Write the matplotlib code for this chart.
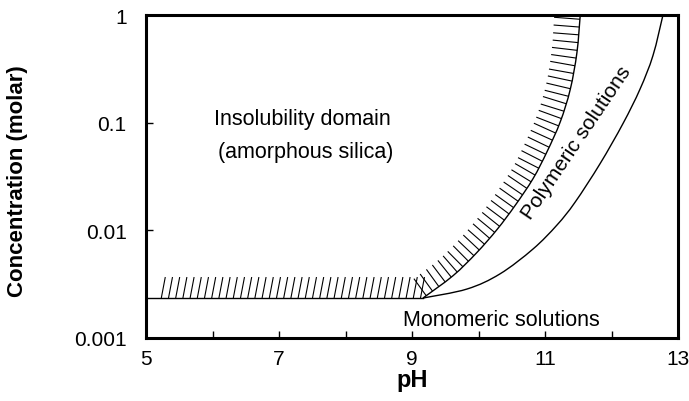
import numpy as np
import matplotlib
matplotlib.use("Agg")
import matplotlib.pyplot as plt
from matplotlib.collections import LineCollection
from matplotlib.patches import PathPatch
from matplotlib.path import Path
from matplotlib.ticker import FixedLocator, NullLocator

plt.rcParams['font.family'] = ['Liberation Sans', 'DejaVu Sans']

# solubility limit of amorphous silica (flat part, then rising branch)
plateau_ph = [5.0, 9.165]
plateau_conc = [0.00235, 0.00235]

solub_ph = [9.165, 9.617, 9.97, 10.28, 10.55, 10.82, 11.03, 11.23, 11.38, 11.48, 11.53]
solub_conc = [0.00235, 0.00379, 0.00617, 0.0102, 0.0170, 0.0302, 0.0537, 0.102, 0.204, 0.447, 1.0]

# monomer / polymer boundary
mono_ph = [9.165, 9.827, 10.323, 10.82, 11.18, 11.451, 11.827, 12.173, 12.429, 12.624, 12.774]
mono_conc = [0.00235, 0.00285, 0.00394, 0.00671, 0.0112, 0.0182, 0.0415, 0.0982, 0.205, 0.421, 1.0]

xticks = [5, 7, 9, 11, 13]
xminor = [6, 8, 10, 12]
yticks = [0.001, 0.01, 0.1, 1]
ytick_labels = ['0.001', '0.01', '0.1', '1']


def smooth_path(xs, ys):
    # Catmull-Rom through the points, in (x, log y), as cubic Bezier pieces
    P = np.column_stack([xs, np.log10(ys)])
    P = np.vstack([P[0], P, P[-1]])
    verts = [P[1]]
    codes = [Path.MOVETO]
    for i in range(1, len(P) - 2):
        c1 = P[i] + (P[i + 1] - P[i - 1]) / 6
        c2 = P[i + 1] - (P[i + 2] - P[i]) / 6
        verts += [c1, c2, P[i + 1]]
        codes += [Path.CURVE4] * 3
    verts = np.array(verts)
    verts[:, 1] = 10 ** verts[:, 1]
    return Path(verts, codes)


fig = plt.figure(figsize=(6.89, 4.02), dpi=100)
ax = fig.add_axes([146 / 689, 63 / 402, 532 / 689, 323 / 402])
ax.set_yscale('log')
ax.set_xlim(5, 13)
ax.set_ylim(0.001, 1)

ax.plot(plateau_ph, plateau_conc, color='black', lw=1.0)
solub_path = smooth_path(solub_ph, solub_conc)
mono_path = smooth_path(mono_ph, mono_conc)
for pth in (solub_path, mono_path):
    ax.add_patch(PathPatch(pth, facecolor='none', edgecolor='black', lw=1.0))

# hatching, built in pixel space from the data lines
to_px = ax.transData
to_data = ax.transData.inverted()


def resample(px, step, start=0.0):
    seg = np.hypot(np.diff(px[:, 0]), np.diff(px[:, 1]))
    s = np.concatenate([[0], np.cumsum(seg)])
    d = np.arange(start, s[-1], step)
    x = np.interp(d, s, px[:, 0])
    y = np.interp(d, s, px[:, 1])
    tx = np.interp(d + 1.5, s, px[:, 0]) - np.interp(d - 1.5, s, px[:, 0])
    ty = np.interp(d + 1.5, s, px[:, 1]) - np.interp(d - 1.5, s, px[:, 1])
    n = np.hypot(tx, ty)
    return x, y, tx / n, ty / n


segs = []
# flat part: slanted strokes above the line
p = to_px.transform(np.column_stack([plateau_ph, plateau_conc]))
x0 = to_px.transform([(5.23, 0.00235)])[0][0]
for x in np.arange(x0, p[1, 0] - 2, 7.2):
    a = (x, p[0, 1])
    b = (x + 4, p[0, 1] + 21)
    segs.append(to_data.transform([a, b]))

# rising part: strokes normal to the curve, on the insoluble side
p = to_px.transform_path(solub_path).to_polygons(closed_only=False)[0]
xs, ys, tx, ty = resample(p, 7.8, start=4.0)
for x, y, ux, uy in zip(xs, ys, tx, ty):
    L = 21 + 5 * (y - p[0, 1]) / (p[-1, 1] - p[0, 1])
    nx, ny = -uy, ux
    segs.append(to_data.transform([(x, y), (x + nx * L, y + ny * L)]))
segs = [s for s in segs if s[:, 1].max() <= 0.98]
ax.add_collection(LineCollection(segs, colors='black', linewidths=0.8))

# labels inside the plot
ax.text(7.35, 0.110, 'Insolubility domain', fontsize=15.5, ha='center', va='center')
ax.text(7.40, 0.0537, '(amorphous silica)', fontsize=15.5, ha='center', va='center')
ax.text(10.35, 0.00147, 'Monomeric solutions', fontsize=15.5, ha='center', va='center')
ax.text(11.48, 0.066, 'Polymeric solutions', fontsize=15, ha='center', va='center',
        rotation=56, rotation_mode='anchor')

# axes styling
for sp in ax.spines.values():
    sp.set_linewidth(2.2)
ax.xaxis.set_major_locator(FixedLocator(xticks))
ax.xaxis.set_minor_locator(FixedLocator(xminor))
ax.yaxis.set_major_locator(FixedLocator(yticks))
ax.yaxis.set_minor_locator(NullLocator())
ax.set_xticklabels([str(t) for t in xticks])
ax.set_yticklabels(ytick_labels)
ax.tick_params(which='both', direction='in', length=5, width=1.0, labelsize=15)
ax.tick_params(axis='x', pad=8)
ax.tick_params(axis='y', pad=14)

ax.set_xlabel('pH', fontsize=17, fontweight='bold')
ax.set_ylabel('Concentration (molar)', fontsize=16, fontweight='bold')
ax.xaxis.set_label_coords(0.5, -0.092)
ax.yaxis.set_label_coords(-0.221, 0.49)

fig.savefig('out.png', dpi=100)
